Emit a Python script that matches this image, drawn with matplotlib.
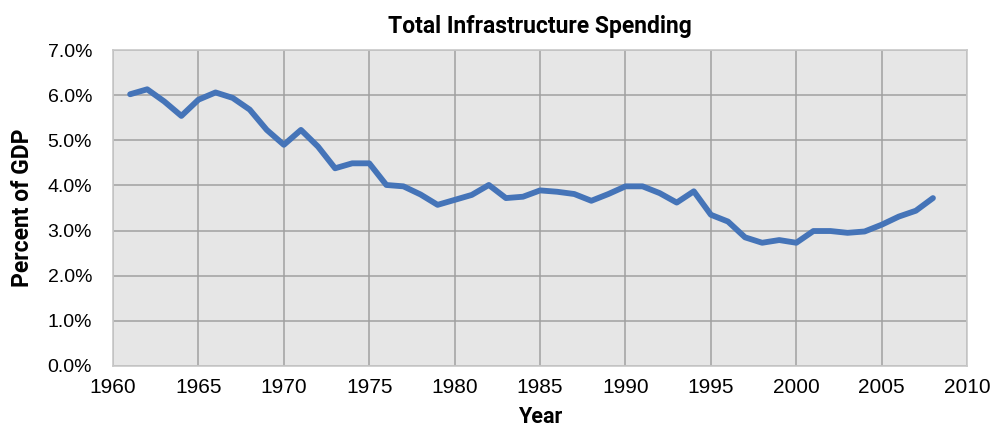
import matplotlib.pyplot as plt
from matplotlib.ticker import FuncFormatter

# percent of GDP
years = list(range(1961, 2009))
spending = [6.02, 6.13, 5.86, 5.54, 5.90, 6.06, 5.94, 5.68, 5.23, 4.90,
            5.23, 4.86, 4.38, 4.49, 4.49, 4.01, 3.98, 3.80, 3.57, 3.68,
            3.79, 4.01, 3.72, 3.75, 3.89, 3.86, 3.81, 3.66, 3.81, 3.98,
            3.98, 3.83, 3.62, 3.87, 3.35, 3.20, 2.85, 2.73, 2.79, 2.73,
            2.99, 2.99, 2.95, 2.98, 3.13, 3.31, 3.44, 3.72]

x_ticks = list(range(1960, 2011, 5))
y_ticks = [0, 1, 2, 3, 4, 5, 6, 7]

bold_font = ['Roboto', 'Liberation Sans', 'DejaVu Sans']
plt.rcParams['font.family'] = ['Liberation Sans', 'DejaVu Sans']

fig = plt.figure(figsize=(9.96, 4.38), dpi=100)
ax = fig.add_axes([0.1135, 0.1644, 0.8575, 0.7214])
ax.set_facecolor('#e6e6e6')

ax.plot(years, spending, color='#4574b8', lw=4.2, solid_capstyle='round',
        solid_joinstyle='round', zorder=3)

ax.set_xlim(1960, 2010)
ax.set_ylim(0, 7)
ax.set_xticks(x_ticks)
ax.set_yticks(y_ticks)
ax.yaxis.set_major_formatter(FuncFormatter(lambda v, p: '%.1f%%' % v))
ax.grid(True, color='#a0a0a0', lw=1.1, zorder=1)
ax.set_axisbelow(True)
ax.tick_params(length=0)
ax.tick_params(axis='x', labelsize=15, pad=9)
ax.tick_params(axis='y', labelsize=14, pad=15)
for s in ax.spines.values():
    s.set_color('#c8c8c8')
    s.set_linewidth(1.2)

ax.set_title('Total Infrastructure Spending', family=bold_font, weight='bold',
             fontsize=16.5, pad=12)
ax.set_xlabel('Year', family=bold_font, weight='bold', fontsize=15.5, labelpad=6)
ax.set_ylabel('Percent of GDP', family=bold_font, weight='bold', fontsize=16.5,
              labelpad=10)

fig.savefig('out.png', dpi=100)
